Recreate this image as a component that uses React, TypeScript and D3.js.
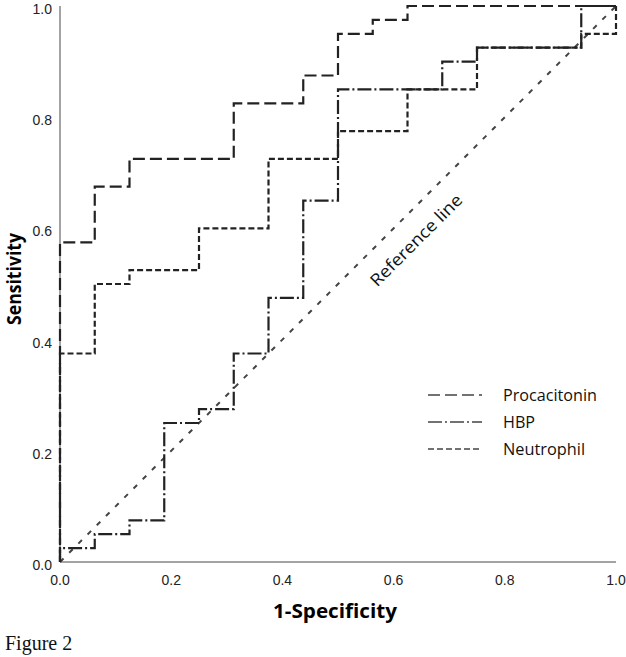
import React from 'react';
import * as d3 from 'd3';

// ROC step points: fpr where the curve steps up, tpr after the step
const pctFpr = [0, 0, 0.0625, 0.125, 0.3125, 0.4375, 0.5, 0.5625, 0.625, 1];
const pctTpr = [0, 0.575, 0.675, 0.725, 0.825, 0.875, 0.95, 0.975, 1, 1];

const hbpFpr = [0, 0, 0.0625, 0.125, 0.1875, 0.25, 0.3125, 0.375, 0.4375, 0.5, 0.6875, 0.75, 0.9375, 1];
const hbpTpr = [0, 0.025, 0.05, 0.075, 0.25, 0.275, 0.375, 0.475, 0.65, 0.85, 0.9, 0.925, 1, 1];

const neuFpr = [0, 0, 0.0625, 0.125, 0.25, 0.375, 0.5, 0.625, 0.75, 0.9375, 1];
const neuTpr = [0, 0.375, 0.5, 0.525, 0.6, 0.725, 0.775, 0.85, 0.925, 0.95, 1];

const refLine = [0, 1];
const ticks = [0, 0.2, 0.4, 0.6, 0.8, 1.0];

const seriesNames = ['Procacitonin', 'HBP', 'Neutrophil'];
const seriesDash = ['12,5', '14,3,2,3', '6,3'];

const W = 626;
const H = 657;
const margin = { left: 60, right: 10, top: 6, bottom: 95 };

export default function App() {
  const x = d3.scaleLinear().domain([0, 1]).range([margin.left, W - margin.right]);
  const y = d3.scaleLinear().domain([0, 1]).range([H - margin.bottom, margin.top]);

  const step = d3.line<[number, number]>()
    .x(d => x(d[0]))
    .y(d => y(d[1]))
    .curve(d3.curveStepAfter);

  const zipPts = (a: number[], b: number[]) => a.map((v, i) => [v, b[i]] as [number, number]);
  const curves = [
    zipPts(pctFpr, pctTpr),
    zipPts(hbpFpr, hbpTpr),
    zipPts(neuFpr, neuTpr),
  ];

  const ref = d3.line<number>().x(d => x(d)).y(d => y(d));
  const fmt = d3.format('.1f');

  const legendX = 428;
  const legendY = 395;
  const legendRow = 27;
  const legendWidths = [94, 32, 82];

  // label of the diagonal sits below-right of the line
  const refCx = x(0.65) - 1;
  const refCy = y(0.575) + 2;

  return (
    <svg width={W} height={H} style={{ position: 'absolute', left: 0, top: 0, background: '#fff' }}>
      {/* axes */}
      <line x1={x(0)} x2={x(0)} y1={y(1)} y2={y(0)} stroke="#a3a3a3" strokeWidth={2} />
      <line x1={x(0)} x2={x(1)} y1={y(0)} y2={y(0)} stroke="#a3a3a3" strokeWidth={2} />

      {ticks.map(t => (
        <text key={'x' + t} x={x(t)} y={y(0) + 23} textAnchor="middle"
          fontFamily="Liberation Sans, Arial, sans-serif" fontSize={14} fill="#222">
          {fmt(t)}
        </text>
      ))}
      {ticks.map(t => (
        <text key={'y' + t} x={x(0) - 8} y={y(t) + 8} textAnchor="end"
          fontFamily="Liberation Sans, Arial, sans-serif" fontSize={14} fill="#222">
          {fmt(t)}
        </text>
      ))}

      {/* reference diagonal */}
      <path d={ref(refLine) || ''} fill="none" stroke="#444" strokeWidth={2} strokeDasharray="5,8" />
      <text transform={`translate(${refCx},${refCy}) rotate(-45)`} textAnchor="middle"
        fontFamily="Open Sans, sans-serif" fontSize={17} fill="#111"
        textLength={122} lengthAdjust="spacingAndGlyphs">
        Reference line
      </text>

      {/* ROC curves */}
      {curves.map((c, i) => (
        <path key={seriesNames[i]} d={step(c) || ''} fill="none" stroke="#222"
          strokeWidth={2.2} strokeDasharray={seriesDash[i]} />
      ))}

      {/* legend */}
      {seriesNames.map((n, i) => (
        <g key={'lg' + n}>
          <line x1={legendX} x2={legendX + 54} y1={legendY + i * legendRow} y2={legendY + i * legendRow}
            stroke="#444" strokeWidth={1.6} strokeDasharray={seriesDash[i]} />
          <text x={legendX + 75} y={legendY + i * legendRow + 5.5}
            fontFamily="Open Sans, sans-serif" fontSize={16} fill="#111"
            textLength={legendWidths[i]} lengthAdjust="spacingAndGlyphs">
            {n}
          </text>
        </g>
      ))}

      {/* axis titles */}
      <text x={335} y={618} textAnchor="middle" fontFamily="Open Sans, sans-serif"
        fontWeight="bold" fontSize={20} fill="#000" textLength={124} lengthAdjust="spacingAndGlyphs">
        1-Specificity
      </text>
      <text transform={`translate(21,279) rotate(-90)`} textAnchor="middle" fontFamily="Open Sans, sans-serif"
        fontWeight="bold" fontSize={20} fill="#000" textLength={92} lengthAdjust="spacingAndGlyphs">
        Sensitivity
      </text>

      <text x={5} y={650} fontFamily="Liberation Serif, Times New Roman, serif" fontSize={20} fill="#111">
        Figure 2
      </text>
    </svg>
  );
}
